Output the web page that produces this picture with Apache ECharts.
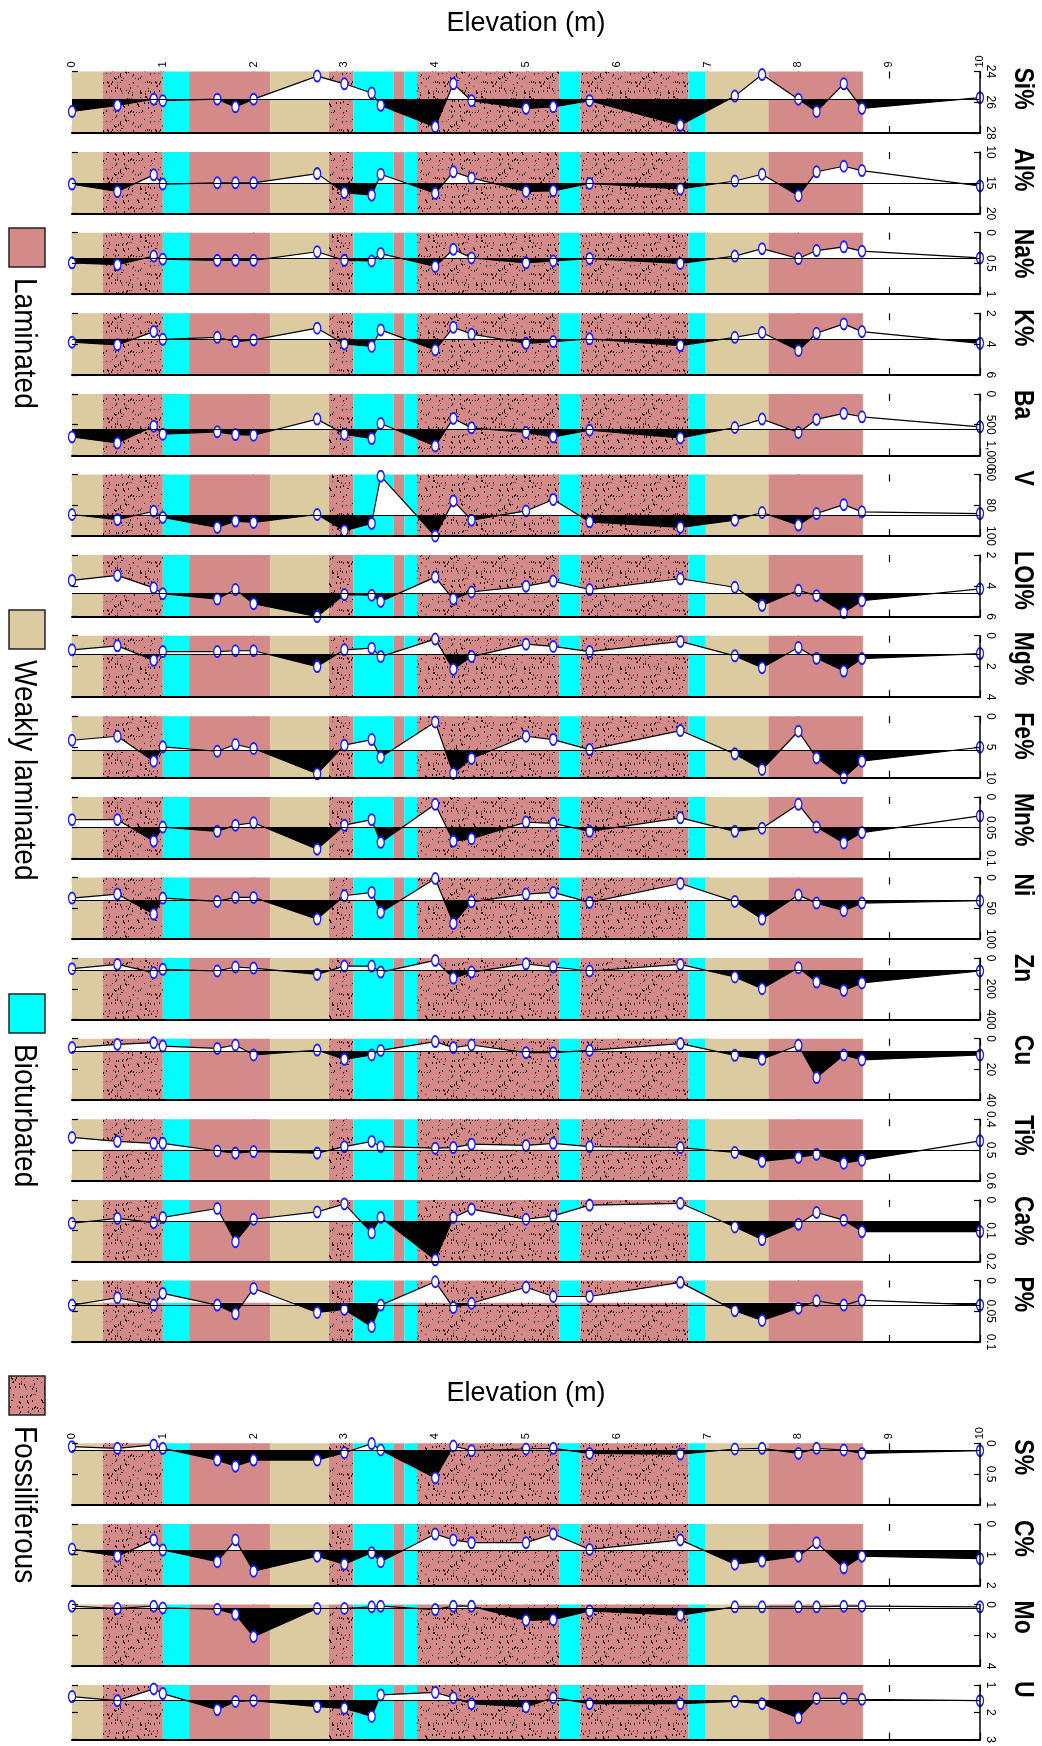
<!DOCTYPE html>
<html><head><meta charset="utf-8">
<script src="https://cdn.jsdelivr.net/npm/echarts@6/dist/echarts.min.js"></script>
<style>html,body{margin:0;padding:0;background:#fff}#c{width:1042px;height:1746px}</style>
</head><body><div id="c"></div>
<script>
// ---------- DATA ----------
const elevation = [0, 0.5, 0.9, 1.0, 1.6, 1.8, 2.0, 2.7, 3.0, 3.3, 3.4, 4.0, 4.2, 4.4, 5.0, 5.3, 5.7, 6.7, 7.3, 7.6, 8.0, 8.2, 8.5, 8.7, 10.0];

const si = [26.6, 26.2, 25.8, 25.9, 25.8, 26.3, 25.8, 24.3, 24.8, 25.4, 26.2, 27.6, 24.8, 25.9, 26.4, 26.3, 25.9, 27.5, 25.6, 24.2, 25.8, 26.6, 24.8, 26.4, 25.7];
const al = [15.2, 16.4, 13.7, 15.2, 15.0, 15.0, 15.0, 13.5, 16.6, 17.0, 13.6, 16.7, 13.2, 14.2, 16.4, 16.3, 15.1, 16.0, 14.7, 13.6, 17.1, 13.2, 12.3, 13.0, 15.5];
const na = [0.49, 0.52, 0.38, 0.43, 0.45, 0.45, 0.45, 0.31, 0.45, 0.46, 0.34, 0.55, 0.27, 0.41, 0.49, 0.46, 0.42, 0.50, 0.38, 0.26, 0.42, 0.29, 0.23, 0.30, 0.41];
const kk = [3.88, 4.05, 3.19, 3.69, 3.56, 3.84, 3.73, 2.97, 3.99, 4.16, 3.08, 4.38, 2.91, 3.36, 3.95, 3.84, 3.66, 4.10, 3.56, 3.25, 4.42, 3.30, 2.69, 3.19, 3.95];
const ba = [699, 798, 525, 656, 617, 661, 672, 410, 656, 727, 481, 847, 399, 552, 628, 699, 590, 716, 546, 410, 628, 415, 317, 372, 536];
const vv = [86.0, 89.3, 83.9, 87.9, 94.4, 90.3, 91.2, 86.0, 96.6, 91.8, 61.1, 100.0, 77.2, 89.7, 83.7, 76.3, 90.8, 94.4, 89.7, 84.7, 92.9, 85.4, 79.6, 84.3, 85.4];
const loi = [3.65, 3.32, 4.13, 4.51, 4.86, 4.24, 5.16, 6.0, 4.57, 4.61, 5.01, 3.43, 4.86, 4.40, 4.02, 3.69, 4.24, 3.54, 4.09, 5.27, 4.29, 4.64, 5.74, 4.97, 4.20];
const mg = [0.92, 0.66, 1.60, 1.03, 1.03, 0.98, 0.98, 2.01, 0.92, 0.81, 1.36, 0.22, 2.19, 1.36, 0.55, 0.70, 1.03, 0.37, 1.31, 2.08, 0.77, 1.47, 2.30, 1.49, 1.16];
const fe = [3.89, 3.24, 7.30, 4.97, 5.68, 4.59, 5.24, 9.35, 4.70, 3.78, 6.65, 0.92, 9.30, 6.86, 3.24, 3.78, 5.41, 2.32, 6.11, 8.65, 2.43, 6.76, 10.0, 7.30, 5.03];
const mn = [0.037, 0.037, 0.072, 0.049, 0.056, 0.046, 0.042, 0.085, 0.046, 0.037, 0.074, 0.012, 0.072, 0.068, 0.041, 0.043, 0.056, 0.034, 0.056, 0.051, 0.012, 0.049, 0.075, 0.058, 0.031];
const ni = [33.5, 27.0, 59.5, 33.5, 38.9, 32.4, 32.4, 67.6, 29.7, 24.3, 56.8, 1.6, 74.6, 39.5, 27.0, 24.3, 40.5, 9.7, 38.9, 67.6, 28.6, 41.6, 54.1, 41.6, 37.8];
const zn = [69, 41, 95, 73, 84, 58, 65, 106, 52, 52, 91, 15, 130, 91, 37, 58, 84, 41, 123, 199, 63, 156, 210, 162, 84];
const cu = [5.8, 3.7, 2.6, 4.8, 6.3, 4.1, 10.6, 7.4, 13.4, 10.6, 7.6, 1.9, 5.8, 4.1, 9.1, 9.1, 7.6, 3.2, 10.8, 13.4, 4.3, 25.3, 10.6, 13.8, 10.6];
const ti = [0.459, 0.472, 0.478, 0.478, 0.503, 0.510, 0.505, 0.510, 0.489, 0.472, 0.489, 0.494, 0.492, 0.481, 0.485, 0.478, 0.489, 0.492, 0.508, 0.537, 0.524, 0.514, 0.543, 0.533, 0.470];
const ca = [0.076, 0.060, 0.074, 0.057, 0.028, 0.136, 0.063, 0.039, 0.013, 0.107, 0.057, 0.195, 0.057, 0.030, 0.063, 0.052, 0.017, 0.011, 0.088, 0.129, 0.079, 0.041, 0.066, 0.103, 0.103];
const pp = [0.040, 0.028, 0.040, 0.021, 0.040, 0.054, 0.013, 0.052, 0.047, 0.075, 0.040, 0.002, 0.044, 0.037, 0.011, 0.026, 0.026, 0.003, 0.049, 0.065, 0.045, 0.033, 0.040, 0.032, 0.040];
const ss = [0.055, 0.082, 0.027, 0.082, 0.273, 0.372, 0.273, 0.273, 0.153, 0.005, 0.109, 0.563, 0.044, 0.120, 0.093, 0.082, 0.164, 0.175, 0.093, 0.082, 0.164, 0.082, 0.109, 0.164, 0.120];
const cc = [0.82, 1.05, 0.52, 0.85, 1.23, 0.52, 1.54, 1.05, 1.31, 0.94, 1.23, 0.33, 0.52, 0.61, 0.61, 0.33, 0.83, 0.52, 1.31, 1.21, 1.05, 0.61, 1.43, 1.05, 1.13];
const mo = [0.11, 0.26, 0.11, 0.22, 0.31, 0.64, 2.09, 0.26, 0.26, 0.15, 0.11, 0.33, 0.11, 0.11, 1.03, 0.99, 0.42, 0.70, 0.15, 0.15, 0.15, 0.15, 0.11, 0.11, 0.15];
const uu = [1.42, 1.57, 1.14, 1.31, 1.90, 1.60, 1.57, 1.79, 1.85, 2.15, 1.36, 1.27, 1.46, 1.68, 1.80, 1.46, 1.68, 1.68, 1.60, 1.68, 2.20, 1.49, 1.49, 1.52, 1.57];

const panelNames = ['Si%', 'Al%', 'Na%', 'K%', 'Ba', 'V', 'LOI%', 'Mg%', 'Fe%', 'Mn%', 'Ni', 'Zn', 'Cu', 'Ti%', 'Ca%', 'P%', 'S%', 'C%', 'Mo', 'U'];
const panelValues = [si, al, na, kk, ba, vv, loi, mg, fe, mn, ni, zn, cu, ti, ca, pp, ss, cc, mo, uu];
const axisMin = [24, 10, 0, 2, 0, 60, 2, 0, 0, 0, 0, 0, 0, 0.4, 0, 0, 0, 0, 0, 1];
const axisMax = [28, 20, 1, 6, 1000, 100, 6, 4, 10, 0.1, 100, 400, 40, 0.6, 0.2, 0.1, 1, 2, 4, 3];
const baseline = [25.8, 15.1, 0.41, 3.69, 579, 86.5, 4.51, 1.20, 5.57, 0.050, 37.8, 80, 8.0, 0.499, 0.070, 0.036, 0.120, 0.87, 0.26, 1.57];

const faciesStart = [0, 0.34, 1.0, 1.29, 2.18, 2.83, 3.10, 3.54, 3.66, 3.80, 5.37, 5.60, 6.79, 6.98, 7.67];
const faciesEnd = [0.34, 1.0, 1.29, 2.18, 2.83, 3.10, 3.54, 3.66, 3.80, 5.37, 5.60, 6.79, 6.98, 7.67, 8.71];
const faciesType = ['Weakly laminated', 'Fossiliferous', 'Bioturbated', 'Laminated', 'Weakly laminated', 'Fossiliferous', 'Bioturbated', 'Laminated', 'Bioturbated', 'Fossiliferous', 'Bioturbated', 'Fossiliferous', 'Bioturbated', 'Weakly laminated', 'Laminated'];
const legendNames = ['Laminated', 'Weakly laminated', 'Bioturbated', 'Fossiliferous'];
const axisTitle = 'Elevation (m)';

// ---------- STYLE / LAYOUT ----------
const FONT = "'Liberation Sans', Arial, sans-serif";
const PINK = '#D58A8A', TAN = '#DCCBA1', CYAN = '#00FFFF';
const PLOT_L = 72, PLOT_R = 980, PANEL_H = 61.5, PITCH = 80.6;
const GROUP1_TOP = 71.5, GROUP2_TOP = 1443.3;

function makeStipple() {
  const n = 48;
  const c = document.createElement('canvas'); c.width = n; c.height = n;
  const g = c.getContext('2d');
  g.fillStyle = PINK; g.fillRect(0, 0, n, n);
  g.fillStyle = '#241010';
  let seed = 12345;
  const next = () => (seed = (seed * 16807) % 2147483647) / 2147483647;
  for (let i = 0; i < 120; i++) {
    const x = Math.floor(next() * n), y = Math.floor(next() * n);
    g.fillRect(x, y, 1, next() < 0.6 ? 2 : 1);
  }
  return c;
}
const stipple = makeStipple();
const faciesFill = {
  'Laminated': PINK,
  'Weakly laminated': TAN,
  'Bioturbated': CYAN,
  'Fossiliferous': { image: stipple, repeat: 'repeat' }
};

const tops = panelNames.map((n, i) => i < 16 ? GROUP1_TOP + i * PITCH : GROUP2_TOP + (i - 16) * PITCH);
const bandData = faciesStart.map((s, i) => [
  { xAxis: s, itemStyle: { color: faciesFill[faciesType[i]] } },
  { xAxis: faciesEnd[i] }
]);

const grid = [], xAxis = [], yAxis = [], series = [], visualMap = [];
panelNames.forEach((name, i) => {
  const isFirst = (i === 0 || i === 16);
  grid.push({ left: PLOT_L, width: PLOT_R - PLOT_L, top: tops[i], height: PANEL_H });
  const xBase = { gridIndex: i, type: 'value', min: 0, max: 10, interval: 1, splitLine: { show: false } };
  xAxis.push(Object.assign({}, xBase, { position: 'bottom', z: 6,
    axisLine: { show: true, onZero: false, lineStyle: { color: '#000', width: 2 } },
    axisTick: { show: false }, axisLabel: { show: false } }));
  xAxis.push(Object.assign({}, xBase, { position: 'bottom', z: 0,
    axisLine: { show: false, onZero: false },
    axisTick: { show: true, inside: true, length: 7, lineStyle: { color: '#000', width: 1.2 } },
    axisLabel: { show: false } }));
  xAxis.push(Object.assign({}, xBase, { position: 'top', z: 0,
    axisLine: { show: false, onZero: false },
    axisTick: { show: true, inside: true, length: 7, lineStyle: { color: '#000', width: 1.2 } },
    axisLabel: { show: isFirst, rotate: -90, fontSize: 11, margin: 4, color: '#000', fontFamily: FONT } }));
  const yBase = { gridIndex: i, type: 'value', inverse: true, min: axisMin[i], max: axisMax[i],
    interval: (axisMax[i] - axisMin[i]) / 2, splitLine: { show: false } };
  yAxis.push(Object.assign({}, yBase, { position: 'right', z: 6,
    axisLine: { show: true, onZero: false, lineStyle: { color: '#000', width: 1.5 } },
    axisTick: { show: true, inside: true, length: 6, lineStyle: { color: '#000', width: 1.2 } },
    axisLabel: { show: true, rotate: -90, fontSize: 12, margin: 4, color: '#000', fontFamily: FONT } }));
  yAxis.push(Object.assign({}, yBase, { position: 'left', z: 6,
    axisLine: { show: false, onZero: false },
    axisTick: { show: true, inside: true, length: 6, lineStyle: { color: '#000', width: 1.2 } },
    axisLabel: { show: false } }));

  const pts = elevation.map((e, j) => [e, panelValues[i][j]]);
  const span = axisMax[i] - axisMin[i];
  const areaIdx = series.length;
  series.push({
    type: 'line', xAxisIndex: 3 * i, yAxisIndex: 2 * i, data: pts,
    symbol: 'none', showSymbol: false, silent: true, animation: false, z: 2,
    lineStyle: { width: 0, opacity: 0 },
    areaStyle: { origin: baseline[i], opacity: 1 },
    markArea: { silent: true, label: { show: false }, data: bandData }
  });
  series.push({
    type: 'line', xAxisIndex: 3 * i, yAxisIndex: 2 * i, data: pts,
    symbol: 'circle', symbolSize: [7, 11], animation: false, z: 3,
    itemStyle: { color: '#ffffff', borderColor: '#1c1cff', borderWidth: 1.6 },
    lineStyle: { color: '#000', width: 1.2 },
    markLine: { silent: true, symbol: 'none', label: { show: false }, animation: false,
      lineStyle: { color: '#000', width: 1.2, type: 'solid' }, data: [{ yAxis: baseline[i] }] }
  });
  visualMap.push({
    type: 'piecewise', show: false, seriesIndex: areaIdx, dimension: 1,
    pieces: [
      { gte: axisMin[i] - span, lt: baseline[i], color: '#ffffff' },
      { gte: baseline[i], lte: axisMax[i] + span, color: '#000000' }
    ],
    outOfRange: { color: '#000000' }
  });
});

// ---------- TEXT / LEGEND GRAPHICS ----------
const graphic = [];
graphic.push({ type: 'text', x: (PLOT_L + PLOT_R) / 2, y: 24,
  style: { text: axisTitle, font: '27px ' + FONT, fill: '#000', textAlign: 'center', textVerticalAlign: 'middle' } });
graphic.push({ type: 'text', x: (PLOT_L + PLOT_R) / 2, y: 1394,
  style: { text: axisTitle, font: '27px ' + FONT, fill: '#000', textAlign: 'center', textVerticalAlign: 'middle' } });
panelNames.forEach((name, i) => {
  graphic.push({ type: 'text', x: 1023, y: tops[i] - 4, rotation: -Math.PI / 2, scaleY: 1.2,
    style: { text: name, font: 'bold 23px ' + FONT, fill: '#000', textAlign: 'left', textVerticalAlign: 'middle' } });
});
const legendY = [228, 610, 994, 1376];
legendNames.forEach((nm, i) => {
  graphic.push({ type: 'rect', shape: { x: 9, y: legendY[i], width: 36, height: 39 },
    style: { fill: faciesFill[nm], stroke: '#222', lineWidth: 1.5 } });
  graphic.push({ type: 'text', x: 24, y: legendY[i] + 50, rotation: -Math.PI / 2, scaleY: 1.12,
    style: { text: nm, font: '28px ' + FONT, fill: '#000', textAlign: 'left', textVerticalAlign: 'middle' } });
});

const chart = echarts.init(document.getElementById('c'), null, { renderer: 'canvas' });
chart.setOption({
  animation: false,
  backgroundColor: '#ffffff',
  grid, xAxis, yAxis, series, visualMap, graphic
});
</script></body></html>
